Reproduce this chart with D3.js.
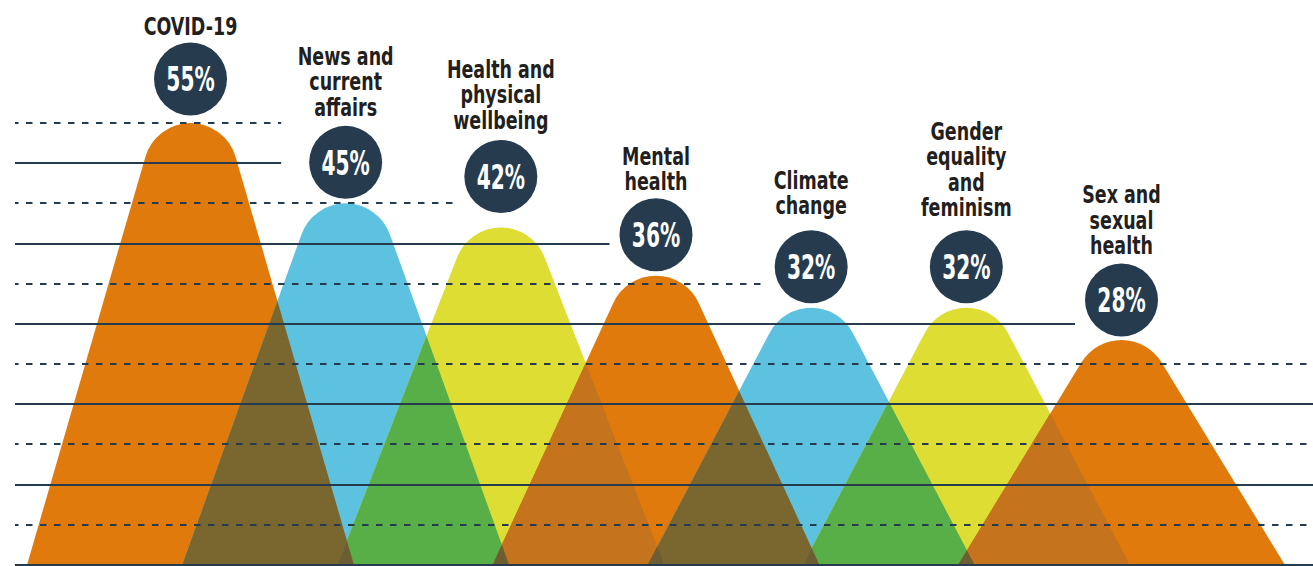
<!DOCTYPE html>
<html>
<head>
<meta charset="utf-8">
<script src="https://cdn.jsdelivr.net/npm/d3@7"></script>
<style>
    html, body { margin: 0; padding: 0; background: #fff; }
    svg { display: block; }
    .label { font-family: "DejaVu Sans Condensed", "Liberation Sans Narrow", sans-serif; font-weight: bold; fill: #231f20; }
    .pct { font-family: "DejaVu Sans Condensed", "Liberation Sans Narrow", sans-serif; font-weight: bold; fill: #fff; }
</style>
</head>
<body>
<svg id="chart"></svg>
<script>
// data
let topics = ['COVID-19', 'News and current affairs', 'Health and physical wellbeing', 'Mental health',
    'Climate change', 'Gender equality and feminism', 'Sex and sexual health'];
let labelLines = [['COVID-19'], ['News and', 'current', 'affairs'], ['Health and', 'physical', 'wellbeing'],
    ['Mental', 'health'], ['Climate', 'change'], ['Gender', 'equality', 'and', 'feminism'], ['Sex and', 'sexual', 'health']];
let shares = [55, 45, 42, 36, 32, 32, 28];
let gridValues = d3.range(0, 60, 5);

// layout tweaks for the label bubbles (pixels)
let bubbleLift = [3, 0, 10, 0, 0, 0, -1];
let labelGap = [8, 10, 11, 8, 16, 14, 9];

function draw_chart() {
    let width = 1313,
        height = 566;
    let svg = d3.select('#chart')
        .attr('width', width)
        .attr('height', height);

    // scales
    let xScale = d3.scalePoint()
        .domain(topics)
        .range([190.5, 1121.5]);
    let yScale = d3.scaleLinear()
        .domain([0, 55])
        .range([565, 123]);

    let halfBase = 163.5,  // half width of each mountain at the bottom
        capR = 47,          // radius of the rounded top
        bubbleR = 36.5;

    let baseColor = ['#e07a0c', '#5dc2e0', '#dedd33'];
    // colour of two neighbours overlapping, keyed by the left one
    let pairColor = ['#7a672f', '#58af48', '#c5731d'];
    let tripleColor = '#6c5d33';

    // mountain path: straight sides tangent to a circle at the top
    function mountainPath(cx, v) {
        let y0 = yScale(0),
            h = y0 - yScale(v),
            c = h - capR;
        let d = Math.hypot(halfBase, c),
            a = Math.atan2(c, halfBase),
            b = Math.asin(capR / d),
            L = Math.sqrt(d * d - capR * capR);
        let tx = -halfBase + L * Math.cos(a + b),
            ty = L * Math.sin(a + b);
        return 'M' + (cx - halfBase) + ',' + y0 +
            'L' + (cx + tx) + ',' + (y0 - ty) +
            'A' + capR + ',' + capR + ' 0 0 1 ' + (cx - tx) + ',' + (y0 - ty) +
            'L' + (cx + halfBase) + ',' + y0 + 'Z';
    }

    let paths = topics.map(function (t, i) {
        return mountainPath(xScale(t), shares[i]);
    });

    // clip paths, one per mountain
    let defs = svg.append('defs');
    defs.selectAll('clipPath')
        .data(paths)
        .enter()
        .append('clipPath')
        .attr('id', function (d, i) { return 'clip-' + i; })
        .append('path')
        .attr('d', function (d) { return d; });

    let gShapes = svg.append('g').attr('id', 'g-shapes');
    // the plain mountains
    gShapes.selectAll('.mountain')
        .data(paths)
        .enter()
        .append('path')
        .attr('class', 'mountain')
        .attr('d', function (d) { return d; })
        .attr('fill', function (d, i) { return baseColor[i % 3]; });

    // overlaps of neighbours
    for (let i = 1; i < paths.length; i++) {
        gShapes.append('path')
            .attr('d', paths[i])
            .attr('clip-path', 'url(#clip-' + (i - 1) + ')')
            .attr('fill', pairColor[(i - 1) % 3]);
    }
    // three mountains overlapping at the bottom
    for (let i = 2; i < paths.length; i++) {
        gShapes.append('g')
            .attr('clip-path', 'url(#clip-' + (i - 2) + ')')
            .append('path')
            .attr('d', paths[i])
            .attr('clip-path', 'url(#clip-' + (i - 1) + ')')
            .attr('fill', tripleColor);
    }

    // bubble positions
    let bubbles = topics.map(function (t, i) {
        return {
            cx: xScale(t),
            cy: yScale(shares[i]) - 41 - bubbleLift[i]
        };
    });

    // grid lines stop before the first bubble that they would cut
    let gGrid = svg.append('g').attr('id', 'g-grid');
    gridValues.forEach(function (v) {
        let y = Math.round(yScale(v));
        let x2 = width;
        for (let i = 1; i < bubbles.length; i++) {
            let b = bubbles[i];
            if (y >= b.cy - bubbleR - 3 && y <= b.cy + bubbleR + 3) {
                x2 = b.cx - bubbleR - (i === 1 ? 28 : 10);
                break;
            }
        }
        let dashed = v % 10 === 5;
        gGrid.append('line')
            .attr('x1', 15)
            .attr('x2', x2)
            .attr('y1', y)
            .attr('y2', y)
            .attr('stroke', '#263c4e')
            .attr('stroke-width', 2)
            .attr('stroke-dasharray', dashed ? '6.5,7.5' : null)
            .attr('stroke-dashoffset', dashed ? 3 : null);
    });

    // bubbles with the percentage
    let gBubble = svg.append('g').attr('id', 'g-bubbles');
    gBubble.selectAll('circle')
        .data(bubbles)
        .enter()
        .append('circle')
        .attr('cx', function (d) { return d.cx; })
        .attr('cy', function (d) { return d.cy; })
        .attr('r', bubbleR)
        .attr('fill', '#263c4e');
    gBubble.selectAll('.pct')
        .data(bubbles)
        .enter()
        .append('text')
        .attr('class', 'pct')
        .attr('transform', function (d) {
            return 'translate(' + d.cx + ',' + (d.cy + 12.3) + ') scale(0.66,1)';
        })
        .attr('text-anchor', 'middle')
        .style('font-size', '34px')
        .text(function (d, i) { return shares[i] + '%'; });

    // topic names above the bubbles
    let gLabel = svg.append('g').attr('id', 'g-labels');
    bubbles.forEach(function (b, i) {
        let lines = labelLines[i];
        let lastBase = b.cy - bubbleR - labelGap[i];
        let text = gLabel.append('text')
            .attr('class', 'label')
            .attr('transform', 'translate(' + b.cx + ',' + lastBase + ') scale(0.81,1)')
            .attr('text-anchor', 'middle')
            .style('font-size', '24px');
        lines.forEach(function (line, k) {
            text.append('tspan')
                .attr('x', 0)
                .attr('y', -(lines.length - 1 - k) * 25.5)
                .text(line);
        });
    });
}

draw_chart();
</script>
</body>
</html>
